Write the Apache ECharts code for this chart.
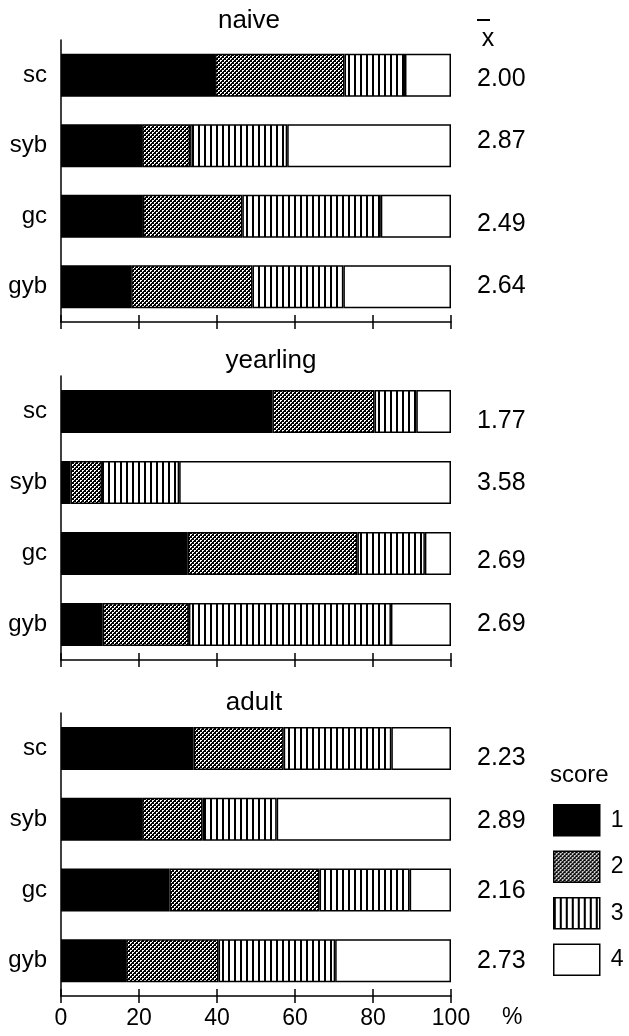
<!DOCTYPE html>
<html>
<head>
<meta charset="utf-8">
<script src="https://cdn.jsdelivr.net/npm/echarts@6/dist/echarts.min.js"></script>
<style>
html,body{margin:0;padding:0;background:#fff;}
#chart{width:629px;height:1036px;}
</style>
</head>
<body>
<div id="chart"></div>
<script>
// ---- data ----
const categories = ['sc', 'syb', 'gc', 'gyb'];
const panelTitles = ['naive', 'yearling', 'adult'];
const scoreNames = ['1', '2', '3', '4'];
const xTicks = [0, 20, 40, 60, 80, 100];

// percentage of animals per score, per group (sc, syb, gc, gyb)
const naiveS1 = [39.5, 20.8, 21.0, 18.0];
const naiveS2 = [33.2, 12.3, 25.5, 31.1];
const naiveS3 = [15.5, 24.9, 35.5, 23.3];
const naiveS4 = [11.8, 42.0, 18.0, 27.6];

const yearlingS1 = [54.2, 2.4, 32.5, 10.7];
const yearlingS2 = [26.2, 8.1, 43.5, 22.1];
const yearlingS3 = [10.7, 19.8, 17.3, 51.8];
const yearlingS4 = [8.9, 69.7, 6.7, 15.4];

const adultS1 = [34.0, 20.8, 27.8, 16.7];
const adultS2 = [23.1, 15.5, 38.5, 23.7];
const adultS3 = [27.6, 19.0, 23.1, 29.9];
const adultS4 = [15.3, 44.7, 10.6, 29.7];

const naiveMeans = ['2.00', '2.87', '2.49', '2.64'];
const yearlingMeans = ['1.77', '3.58', '2.69', '2.69'];
const adultMeans = ['2.23', '2.89', '2.16', '2.73'];

const panelScores = [
  [naiveS1, naiveS2, naiveS3, naiveS4],
  [yearlingS1, yearlingS2, yearlingS3, yearlingS4],
  [adultS1, adultS2, adultS3, adultS4]
];
const panelMeans = [naiveMeans, yearlingMeans, adultMeans];

// ---- layout (pixel nudges of the mean labels relative to bar centre) ----
const meanShift = [[4, -5, 8, -1], [10, 1, 8, 0], [10, 2, 1, 0]];

// ---- patterns ----
function makeCross() {
  const c = document.createElement('canvas');
  c.width = 4; c.height = 4;
  const g = c.getContext('2d');
  g.fillStyle = '#000'; g.fillRect(0, 0, 4, 4);
  g.fillStyle = '#fff';
  [[0,0],[1,0],[0,1],[2,2],[3,2],[2,3]].forEach(p => g.fillRect(p[0], p[1], 1, 1));
  return c;
}
function makeStripes() {
  const c = document.createElement('canvas');
  c.width = 6; c.height = 4;
  const g = c.getContext('2d');
  g.fillStyle = '#fff'; g.fillRect(0, 0, 6, 4);
  g.fillStyle = '#000'; g.fillRect(0, 0, 2, 4);
  return c;
}
const fills = [
  '#000',
  { image: makeCross(), repeat: 'repeat' },
  { image: makeStripes(), repeat: 'repeat' },
  '#fff'
];

const FONT = 'Liberation Sans';
const gridLayout = [
  { top: 40, height: 282 },
  { top: 376, height: 284 },
  { top: 713, height: 283 }
];
const titlePos = [
  { left: 244, top: 3 },
  { left: 266, top: 343 },
  { left: 249, top: 685 }
];

const grids = [], xAxes = [], yAxes = [], series = [], titles = [];
for (let p = 0; p < 3; p++) {
  grids.push({ left: 61, width: 390, top: gridLayout[p].top, height: gridLayout[p].height });
  titles.push({
    text: panelTitles[p], left: titlePos[p].left, top: titlePos[p].top, textAlign: 'center',
    textStyle: { fontFamily: FONT, fontSize: 26, fontWeight: 'normal', color: '#000' }
  });
  const isLast = p === 2;
  xAxes.push({
    gridIndex: p, type: 'value', min: xTicks[0], max: xTicks[xTicks.length - 1], interval: xTicks[1] - xTicks[0],
    axisLine: { show: true, lineStyle: { color: '#000', width: 1.5 } },
    axisTick: { show: true, length: 7, lineStyle: { color: '#000', width: 1.5 } },
    axisLabel: { show: isLast, margin: 11, fontFamily: FONT, fontSize: 23, color: '#000' },
    splitLine: { show: false }
  });
  xAxes.push({
    gridIndex: p, type: 'value', min: xTicks[0], max: xTicks[xTicks.length - 1], interval: xTicks[1] - xTicks[0],
    position: 'bottom',
    axisLine: { show: false },
    axisTick: { show: true, inside: true, length: 7, lineStyle: { color: '#000', width: 1.5 } },
    axisLabel: { show: false },
    splitLine: { show: false }
  });
  yAxes.push({
    gridIndex: p, type: 'category', data: categories, inverse: true,
    axisLine: { show: true, lineStyle: { color: '#000', width: 1.5 } },
    axisTick: { show: false },
    axisLabel: { margin: 14, fontFamily: FONT, fontSize: 24, color: '#000' }
  });
  const rich = {};
  meanShift[p].forEach((k, i) => {
    rich['s' + i] = {
      fontFamily: FONT, fontSize: 25, color: '#000',
      padding: k >= 0 ? [2 * k, 0, 0, 0] : [0, 0, -2 * k, 0]
    };
  });
  yAxes.push({
    gridIndex: p, type: 'category', data: panelMeans[p], inverse: true, position: 'right',
    axisLine: { show: false }, axisTick: { show: false },
    axisLabel: {
      margin: 26, fontFamily: FONT, fontSize: 25, color: '#000', rich: rich,
      formatter: (v, i) => '{s' + i + '|' + v + '}'
    }
  });
  for (let s = 0; s < 4; s++) {
    series.push({
      type: 'bar', name: scoreNames[s], stack: 'panel' + p,
      xAxisIndex: p * 2, yAxisIndex: p * 2,
      barWidth: 43,
      data: panelScores[p][s],
      itemStyle: { color: fills[s], borderColor: '#000', borderWidth: 1.5 },
      emphasis: { disabled: true },
      animation: false
    });
  }
}

titles.push({
  text: 'x', left: 483, top: 22, textAlign: 'center',
  textStyle: { fontFamily: FONT, fontSize: 25, fontWeight: 'normal', color: '#000' }
});
titles.push({
  text: 'score', left: 545, top: 758,
  textStyle: { fontFamily: FONT, fontSize: 24, fontWeight: 'normal', color: '#000' }
});
titles.push({
  text: '%', left: 497, top: 1001,
  textStyle: { fontFamily: FONT, fontSize: 23, fontWeight: 'normal', color: '#000' }
});

const chart = echarts.init(document.getElementById('chart'), null, { renderer: 'canvas' });
chart.setOption({
  backgroundColor: '#fff',
  animation: false,
  title: titles,
  grid: grids,
  xAxis: xAxes,
  yAxis: yAxes,
  graphic: [{
    type: 'line', shape: { x1: 477, y1: 20, x2: 490, y2: 20 },
    style: { stroke: '#000', lineWidth: 2 }, silent: true
  }],
  legend: {
    data: scoreNames, orient: 'vertical', left: 553, top: 804,
    icon: 'rect', padding: 0,
    itemWidth: 46, itemHeight: 31, itemGap: 14,
    selectedMode: false,
    textStyle: { fontFamily: FONT, fontSize: 23, color: '#000', padding: [0, 0, 0, 6] },
    itemStyle: { borderColor: '#000', borderWidth: 1.5 }
  },
  series: series
});
</script>
</body>
</html>
